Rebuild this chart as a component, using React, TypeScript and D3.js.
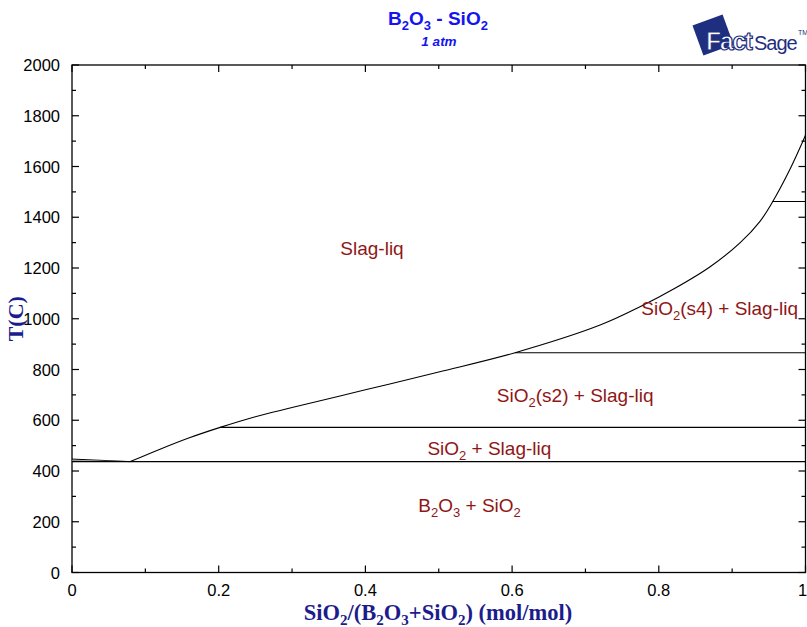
import React from "react";
import * as d3 from "d3";

const liquidus: [number, number][] = [
  [0.0795, 437], [0.12, 486], [0.16, 531], [0.202, 572],
  [0.25, 614], [0.3, 650], [0.4, 720], [0.5, 790], [0.604, 866],
  [0.72, 975], [0.775, 1048], [0.822, 1120], [0.87, 1205], [0.911, 1300],
  [0.938, 1384], [0.954, 1455], [0.979, 1590], [1.0, 1723],
];
const leftLines: [number, number][][] = [
  [[0, 447], [0.0795, 437]],
  [[0, 441], [0.0795, 437]],
];
const invariants: { x0: number; x1: number; t: number }[] = [
  { x0: 0, x1: 1, t: 437 },
  { x0: 0.202, x1: 1, t: 572 },
  { x0: 0.604, x1: 1, t: 866 },
  { x0: 0.955, x1: 1, t: 1462 },
];
const xTicks = [0, 0.2, 0.4, 0.6, 0.8, 1];
const xMinor = [0.1, 0.3, 0.5, 0.7, 0.9];
const yTicks = [0, 200, 400, 600, 800, 1000, 1200, 1400, 1600, 1800, 2000];
const yMinor = [100, 300, 500, 700, 900, 1100, 1300, 1500, 1700, 1900];
const regionLabels: { x: number; t: number; parts: [string, boolean][] }[] = [
  { x: 0.409, t: 1251, parts: [["Slag-liq", false]] },
  { x: 0.883, t: 1015, parts: [["SiO", false], ["2", true], ["(s4) + Slag-liq", false]] },
  { x: 0.686, t: 672, parts: [["SiO", false], ["2", true], ["(s2) + Slag-liq", false]] },
  { x: 0.569, t: 463, parts: [["SiO", false], ["2", true], [" + Slag-liq", false]] },
  { x: 0.542, t: 238, parts: [["B", false], ["2", true], ["O", false], ["3", true], [" + SiO", false], ["2", true]] },
];

const W = 807, H = 627;
const L = 72, R = 805.5, T = 65, B = 572.5;

export default function App() {
  const x = d3.scaleLinear().domain([0, 1]).range([L, R]);
  const y = d3.scaleLinear().domain([0, 2000]).range([B, T]);
  const line = d3.line<[number, number]>().x(d => x(d[0])).y(d => y(d[1])).curve(d3.curveCatmullRom.alpha(0.5));
  const straight = d3.line<[number, number]>().x(d => x(d[0])).y(d => y(d[1]));
  const red = "#8f1616";
  const navy = "#1c1c8c";
  const blue = "#1414f0";
  const logo = "#1f2f80";
  const font = "Liberation Sans, Arial, sans-serif";
  const serif = "Liberation Serif, Times New Roman, serif";

  return (
    <svg width={W} height={H} style={{ position: "absolute", left: 0, top: 0, background: "#fff" }}>
      <rect x={0} y={0} width={W} height={H} fill="#fff" />
      {/* Title */}
      <text x={438} y={25} textAnchor="middle" fontFamily={font} fontWeight="bold" fontSize={19} fill={blue}>
        <tspan>B</tspan><tspan fontSize={13} dy={5}>2</tspan><tspan dy={-5}>O</tspan><tspan fontSize={13} dy={5}>3</tspan><tspan dy={-5}> - SiO</tspan><tspan fontSize={13} dy={5}>2</tspan>
      </text>
      <text x={439} y={46} textAnchor="middle" fontFamily={font} fontWeight="bold" fontStyle="italic" fontSize={13.5} fill={blue}>1 atm</text>
      {/* Logo */}
      <g>
        <rect x={697} y={19} width={32} height={32} fill={logo} transform="rotate(-20 713 35)" />
        <text x={706} y={50} fontFamily={font} fontWeight="bold" fontSize={25} fill="#fff" stroke={logo} strokeWidth={1.2} letterSpacing={-1.5}>Fact</text>
        <text x={754} y={50} fontFamily={font} fontSize={20} fill={logo} letterSpacing={-1}>Sage</text>
        <text x={798} y={35} fontFamily={font} fontSize={7} fill={logo}>TM</text>
      </g>
      {/* Frame */}
      <rect x={L} y={T} width={R - L} height={B - T} fill="none" stroke="#000" strokeWidth={1.3} />
      {/* Ticks */}
      {yTicks.map(t => (
        <g key={"y" + t}>
          <line x1={L} x2={L + 7} y1={y(t)} y2={y(t)} stroke="#000" strokeWidth={1.2} />
          <line x1={R} x2={R - 7} y1={y(t)} y2={y(t)} stroke="#000" strokeWidth={1.2} />
          <text x={60} y={y(t) + 6} textAnchor="end" fontFamily={font} fontSize={16.5} fill="#000">{t}</text>
        </g>
      ))}
      {yMinor.map(t => (
        <g key={"ym" + t}>
          <line x1={L} x2={L + 4} y1={y(t)} y2={y(t)} stroke="#000" strokeWidth={1.2} />
          <line x1={R} x2={R - 4} y1={y(t)} y2={y(t)} stroke="#000" strokeWidth={1.2} />
        </g>
      ))}
      {xTicks.map(t => (
        <g key={"x" + t}>
          <line x1={x(t)} x2={x(t)} y1={B} y2={B - 7} stroke="#000" strokeWidth={1.2} />
          <line x1={x(t)} x2={x(t)} y1={T} y2={T + 7} stroke="#000" strokeWidth={1.2} />
          <text x={t === 1 ? x(t) - 3 : x(t)} y={596} textAnchor="middle" fontFamily={font} fontSize={16.5} fill="#000">{t === 0 || t === 1 ? String(t) : t.toFixed(1)}</text>
        </g>
      ))}
      {xMinor.map(t => (
        <g key={"xm" + t}>
          <line x1={x(t)} x2={x(t)} y1={B} y2={B - 4} stroke="#000" strokeWidth={1.2} />
          <line x1={x(t)} x2={x(t)} y1={T} y2={T + 4} stroke="#000" strokeWidth={1.2} />
        </g>
      ))}
      {/* Axis titles */}
      <text x={438} y={620} textAnchor="middle" fontFamily={serif} fontWeight="bold" fontSize={22.5} fill={navy}>
        <tspan>SiO</tspan><tspan fontSize={15} dy={5}>2</tspan><tspan dy={-5}>/(B</tspan><tspan fontSize={15} dy={5}>2</tspan><tspan dy={-5}>O</tspan><tspan fontSize={15} dy={5}>3</tspan><tspan dy={-5}>+SiO</tspan><tspan fontSize={15} dy={5}>2</tspan><tspan dy={-5}>) (mol/mol)</tspan>
      </text>
      <text transform={`translate(23 ${y(1000)}) rotate(-90)`} textAnchor="middle" fontFamily={serif} fontWeight="bold" fontSize={22} fill={navy}>T(C)</text>
      {/* Phase boundaries */}
      <path d={line(liquidus) || ""} fill="none" stroke="#000" strokeWidth={1.1} />
      <path d={straight(leftLines[0]) || ""} fill="none" stroke="#000" strokeWidth={1} />
      <path d={straight(leftLines[1]) || ""} fill="none" stroke="#888" strokeWidth={1} />
      {invariants.map((d, i) => (
        <line key={i} x1={x(d.x0)} x2={x(d.x1)} y1={y(d.t)} y2={y(d.t)} stroke="#000" strokeWidth={1.1} />
      ))}
      {/* Region labels */}
      {regionLabels.map((lb, i) => (
        <text key={i} x={x(lb.x)} y={y(lb.t)} textAnchor="middle" fontFamily={font} fontSize={19} fill={red}>
          {lb.parts.map((p, j) => {
            const prevSub = j > 0 && lb.parts[j - 1][1];
            return (
              <tspan key={j} fontSize={p[1] ? 13 : 19} dy={p[1] ? 5 : prevSub ? -5 : 0}>{p[0]}</tspan>
            );
          })}
        </text>
      ))}
    </svg>
  );
}
